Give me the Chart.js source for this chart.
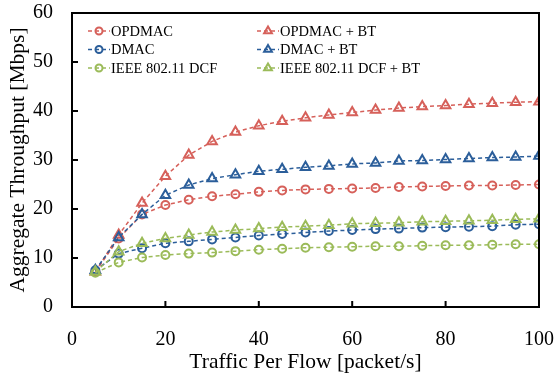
<!DOCTYPE html>
<html>
<head>
<meta charset="utf-8">
<script src="https://cdn.jsdelivr.net/npm/chart.js@4.4.1/dist/chart.umd.min.js"></script>
<style>
  html, body { margin: 0; padding: 0; background: #fff; }
  #wrap { width: 554px; height: 381px; }
</style>
</head>
<body>
<div id="wrap"><canvas id="tput"></canvas></div>
<script>
const rate = [5, 10, 15, 20, 25, 30, 35, 40, 45, 50, 55, 60, 65, 70, 75, 80, 85, 90, 95, 100];
const opdmac   = [7.2, 14.0, 18.9, 20.8, 21.9, 22.6, 23.0, 23.5, 23.8, 24.0, 24.1, 24.2, 24.3, 24.5, 24.6, 24.7, 24.8, 24.8, 24.9, 25.0];
const opdmacBt = [7.2, 14.7, 21.2, 26.7, 31.0, 33.8, 35.7, 37.0, 37.9, 38.6, 39.2, 39.7, 40.2, 40.6, 40.9, 41.1, 41.4, 41.6, 41.8, 41.9];
const dmac     = [7.5, 10.9, 12.0, 13.0, 13.4, 13.8, 14.2, 14.6, 14.9, 15.2, 15.5, 15.7, 15.9, 16.0, 16.2, 16.3, 16.4, 16.5, 16.8, 16.9];
const dmacBt   = [7.5, 14.2, 18.9, 22.8, 24.9, 26.2, 27.0, 27.7, 28.1, 28.5, 28.8, 29.2, 29.4, 29.8, 29.9, 30.1, 30.3, 30.5, 30.6, 30.8];
const dcf      = [7.0, 9.1, 10.1, 10.6, 10.9, 11.1, 11.4, 11.7, 11.9, 12.1, 12.2, 12.3, 12.4, 12.4, 12.5, 12.6, 12.6, 12.7, 12.8, 12.8];
const dcfBt    = [7.2, 11.3, 13.0, 14.0, 14.7, 15.3, 15.7, 16.0, 16.3, 16.5, 16.7, 17.0, 17.1, 17.2, 17.4, 17.5, 17.6, 17.7, 17.9, 18.0];

const names = ["OPDMAC", "OPDMAC + BT", "DMAC", "DMAC + BT", "IEEE 802.11 DCF", "IEEE 802.11 DCF + BT"];
const series = [opdmac, opdmacBt, dmac, dmacBt, dcf, dcfBt];

const RED = "#D6605A";
const BLUE = "#2B5E9A";
const GREEN = "#9BBB59";
const colors = [RED, RED, BLUE, BLUE, GREEN, GREEN];
const serif = "'Liberation Serif', 'Times New Roman', serif";

const datasets = series.map((vals, i) => ({
  label: names[i],
  data: vals.map((v, k) => ({ x: rate[k], y: v })),
  borderColor: colors[i],
  backgroundColor: "rgba(0,0,0,0)",
  borderWidth: 1.5,
  borderDash: [4, 3],
  pointStyle: i % 2 ? "triangle" : "circle",
  pointRadius: i % 2 ? 5.5 : 4,
  pointBorderWidth: 2,
  pointBackgroundColor: "rgba(0,0,0,0)",
  order: 5 - i,
}));

// frame around plot + inward tick marks
const frame = {
  id: "frame",
  afterDatasetsDraw(chart) {
    const { ctx, chartArea: a, scales } = chart;
    ctx.save();
    ctx.strokeStyle = "#000";
    ctx.lineWidth = 2;
    ctx.strokeRect(a.left, a.top, a.right - a.left, a.bottom - a.top);
    ctx.beginPath();
    scales.y.ticks.forEach(t => {
      const y = scales.y.getPixelForValue(t.value);
      ctx.moveTo(a.left, y);
      ctx.lineTo(a.left + 6, y);
    });
    scales.x.ticks.forEach(t => {
      const x = scales.x.getPixelForValue(t.value);
      ctx.moveTo(x, a.bottom);
      ctx.lineTo(x, a.bottom - 6);
    });
    ctx.stroke();
    ctx.restore();
  }
};

// two-column legend inside the plot
const legendBox = {
  id: "legendBox",
  afterDraw(chart) {
    const { ctx, chartArea: a } = chart;
    ctx.save();
    ctx.font = "14.5px " + serif;
    ctx.textBaseline = "middle";
    chart.data.datasets.forEach((ds, i) => {
      const x0 = a.left + (i % 2 ? 185 : 16);
      const y = 31 + Math.floor(i / 2) * 18.5;
      ctx.strokeStyle = ds.borderColor;
      ctx.fillStyle = "rgba(0,0,0,0)";
      ctx.lineWidth = 1.5;
      ctx.setLineDash([4, 3]);
      ctx.beginPath();
      ctx.moveTo(x0, y);
      ctx.lineTo(x0 + 22, y);
      ctx.stroke();
      ctx.setLineDash([]);
      ctx.lineWidth = 2;
      Chart.helpers.drawPoint(ctx, {
        pointStyle: ds.pointStyle,
        radius: ds.pointStyle === "circle" ? 3.5 : 4.5,
        borderWidth: 2,
        rotation: 0,
      }, x0 + 11, y);
      ctx.fillStyle = "#000";
      ctx.fillText(ds.label, x0 + 23, y + 1);
    });
    ctx.restore();
  }
};

new Chart(document.getElementById("tput"), {
  type: "line",
  data: { datasets },
  options: {
    responsive: true,
    maintainAspectRatio: false,
    animation: false,
    layout: { padding: { top: 13, right: 15, left: 0, bottom: 0 } },
    plugins: {
      legend: { display: false },
      tooltip: { enabled: false },
    },
    scales: {
      x: {
        type: "linear",
        min: 0,
        max: 100,
        grid: { display: false, drawTicks: false },
        border: { display: false },
        ticks: { stepSize: 20, padding: 21, color: "#000", font: { family: serif, size: 20 } },
        title: { display: true, text: "Traffic Per Flow [packet/s]", color: "#000",
                 font: { family: serif, size: 21.5 }, padding: { top: 0, bottom: 6 } },
        afterFit: s => { s.height = 74; s.paddingLeft = 0; s.paddingRight = 0; },
      },
      y: {
        min: 0,
        max: 60,
        grid: { display: false, drawTicks: false },
        border: { display: false },
        ticks: { stepSize: 10, padding: 19, color: "#000", font: { family: serif, size: 20 } },
        title: { display: true, text: "Aggregate Throughput [Mbps]", color: "#000",
                 font: { family: serif, size: 21.5 }, padding: { top: 5, bottom: 0 } },
        afterFit: s => { s.width = 72; s.paddingTop = 0; s.paddingBottom = 0; },
      },
    },
  },
  plugins: [frame, legendBox],
});
</script>
</body>
</html>
